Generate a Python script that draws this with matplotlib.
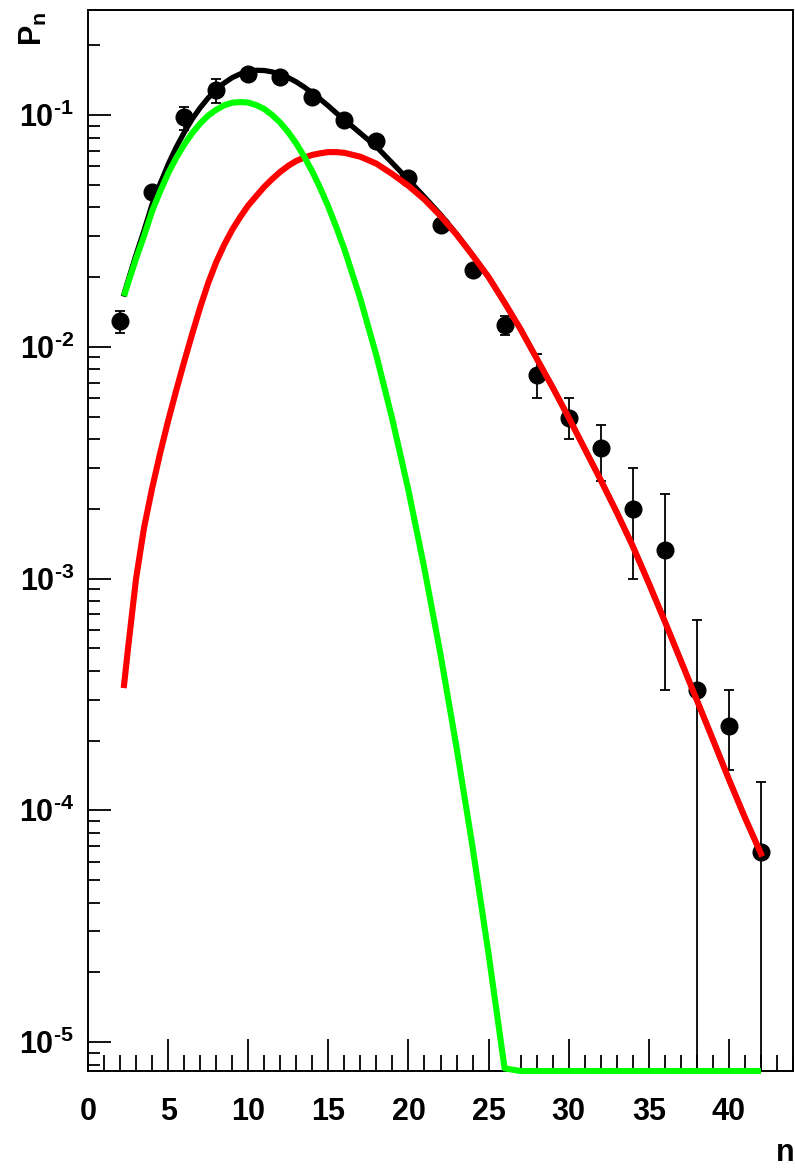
import matplotlib
matplotlib.use("Agg")
import matplotlib.pyplot as plt
import numpy as np
from matplotlib.ticker import FixedLocator, FixedFormatter, MultipleLocator, LogLocator, NullFormatter

plt.rcParams['font.family'] = ['Liberation Sans', 'DejaVu Sans']
plt.rcParams['font.weight'] = 'bold'
plt.rcParams['mathtext.fontset'] = 'custom'
plt.rcParams['mathtext.rm'] = 'Liberation Sans:bold'
plt.rcParams['mathtext.bf'] = 'Liberation Sans:bold'
plt.rcParams['mathtext.it'] = 'Liberation Sans:bold'

# measured multiplicity distribution
n_data = [2, 4, 6, 8, 10, 12, 14, 16, 18, 20, 22, 24, 26, 28, 30, 32, 34, 36, 38, 40, 42]
p_data = [0.0129, 0.0466, 0.098, 0.128, 0.151, 0.146, 0.120, 0.095, 0.077, 0.0534, 0.0335,
          0.0214, 0.0124, 0.00755, 0.00493, 0.00366, 0.00200, 0.00133, 0.00033, 0.000231, 6.6e-5]
err_lo = [0.0014, 0.003, 0.012, 0.015, 0.005, 0.005, 0.004, 0.003, 0.003, 0.002, 0.0015,
          0.001, 0.0012, 0.00155, 0.00093, 0.00102, 0.0010, 0.0010, 0.00033, 0.000082, 6.6e-5]
err_hi = [0.0014, 0.003, 0.010, 0.015, 0.005, 0.005, 0.004, 0.003, 0.003, 0.002, 0.0015,
          0.001, 0.0012, 0.00175, 0.0011, 0.00093, 0.0010, 0.00099, 0.00033, 0.0001, 6.6e-5]

# fit curves
n_curve = [2.25, 2.5, 3, 3.5, 4, 4.5, 5, 5.5, 6, 6.5, 7, 7.5, 8, 8.5, 9, 9.5, 10, 10.5,
           11, 11.5, 12, 12.5, 13, 13.5, 14, 14.5, 15, 15.5, 16] + list(range(17, 43))
p_total = [0.0169, 0.0193, 0.0250, 0.0318, 0.0412, 0.0505, 0.0612, 0.0725, 0.0840, 0.0960,
           0.1075, 0.1185, 0.1285, 0.1375, 0.1450, 0.1505, 0.1545, 0.1560, 0.1557, 0.1535,
           0.1500, 0.1450, 0.1390, 0.1320, 0.1245, 0.1170, 0.1095, 0.1020, 0.0955,
           0.0835, 0.0730, 0.0620, 0.0525, 0.0443, 0.0372, 0.0307, 0.0249, 0.0200, 0.0155,
           0.0119, 0.00891, 0.00668, 0.00495, 0.00363, 0.00266, 0.00193, 0.00138, 0.000955,
           0.000653, 0.000442, 0.000299, 0.000202, 0.000136, 9.3e-5, 6.5e-5]
p_soft = [0.01655, 0.01884, 0.02404, 0.03013, 0.0385, 0.0468, 0.0560, 0.0653, 0.0745, 0.0836,
          0.0920, 0.0995, 0.1054, 0.1102, 0.1130, 0.1138, 0.1132, 0.1104, 0.1062, 0.1000,
          0.0927, 0.0843, 0.0753, 0.0661, 0.0570, 0.0483, 0.0402, 0.0328, 0.0264,
          0.0161, 0.00916, 0.00485, 0.00240, 0.00110, 4.71e-4, 1.87e-4, 6.95e-5, 2.40e-5, 7.7e-6] \
         + [7.5e-6] * 16
p_semihard = [3.47e-4, 5.01e-4, 1.00e-3, 1.66e-3, 2.45e-3, 3.47e-3, 4.79e-3, 6.46e-3, 8.61e-3,
              0.01135, 0.01479, 0.01884, 0.02317, 0.02754, 0.03199, 0.03631, 0.04074, 0.0447,
              0.0490, 0.0530, 0.0569, 0.0604, 0.0634, 0.0656, 0.0673, 0.0684, 0.0692, 0.0692, 0.0687,
              0.0661, 0.0617, 0.0556, 0.0495, 0.0432, 0.0367, 0.0305, 0.0248, 0.0200, 0.0155,
              0.0119, 0.00891, 0.00668, 0.00495, 0.00363, 0.00266, 0.00193, 0.00138, 0.000955,
              0.000653, 0.000442, 0.000299, 0.000202, 0.000136, 9.3e-5, 6.5e-5]

y_min, y_max = 7.5e-6, 0.284

fig = plt.figure(figsize=(7.95, 11.72), dpi=100)
ax = fig.add_axes([88/795, 1 - 1071/1172, 705/795, 1061/1172])

ax.errorbar(n_data, p_data, yerr=[err_lo, err_hi], fmt='o', color='black', ms=12,
            elinewidth=1.3, capsize=3.5, capthick=1.3, zorder=2)
ax.plot(n_curve, p_total, color='black', lw=3.8, zorder=3)
ax.plot(n_curve, p_semihard, color='#ff0000', lw=4.4, zorder=4)
ax.plot(n_curve, np.maximum(p_soft, y_min), color='#00ff00', lw=4.4, zorder=5,
        solid_capstyle='butt', clip_on=False)

ax.set_yscale('log')
ax.set_xlim(0, 44)
ax.set_ylim(y_min, y_max)

ax.xaxis.set_major_locator(FixedLocator([0, 5, 10, 15, 20, 25, 30, 35, 40]))
ax.xaxis.set_minor_locator(MultipleLocator(1))
ax.yaxis.set_major_locator(FixedLocator([1e-5, 1e-4, 1e-3, 1e-2, 1e-1]))
ax.yaxis.set_major_formatter(FixedFormatter([r'$10^{\text{-}5}$', r'$10^{\text{-}4}$',
                                             r'$10^{\text{-}3}$', r'$10^{\text{-}2}$',
                                             r'$10^{\text{-}1}$']))
ax.yaxis.set_minor_locator(LogLocator(base=10, subs=np.arange(2, 10), numticks=20))
ax.yaxis.set_minor_formatter(NullFormatter())

ax.tick_params(axis='x', which='major', direction='in', length=23, width=1.3,
               labelsize=22, pad=19, top=False)
ax.tick_params(axis='x', which='minor', direction='in', length=11.5, width=1.3, top=False)
ax.tick_params(axis='y', which='major', direction='in', length=16.5, width=1.3,
               labelsize=22, pad=10, right=False)
ax.tick_params(axis='y', which='minor', direction='in', length=8.5, width=1.3, right=False)
for lab in ax.get_xticklabels():
    lab.set_fontweight('bold')

for sp in ax.spines.values():
    sp.set_linewidth(1.4)

fig.text(33/795, 1 - 12/1172, r'$\mathbf{P_n}$', rotation=90, ha='center', va='top', fontsize=22)
fig.text(794/795, 1 - 1168/1172, 'n', ha='right', va='bottom', fontsize=22, fontweight='bold')

fig.savefig('out.png', dpi=100)
